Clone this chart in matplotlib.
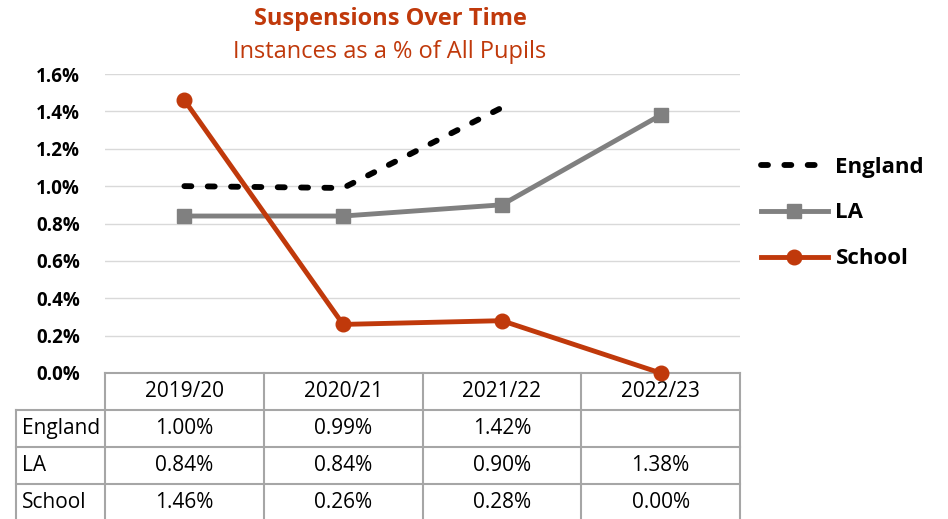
import numpy as np
import matplotlib.pyplot as plt
from matplotlib.lines import Line2D

plt.rcParams['font.family'] = ['Open Sans', 'DejaVu Sans']

years = ["2019/20", "2020/21", "2021/22", "2022/23"]
england = [1.00, 0.99, 1.42, np.nan]
la = [0.84, 0.84, 0.90, 1.38]
school = [1.46, 0.26, 0.28, 0.00]
series_names = ["England", "LA", "School"]

RED = "#C0390B"
GREY = "#808080"
TABLE_LINE = "#a6a6a6"

W, H = 948, 519
fig = plt.figure(figsize=(W / 100, H / 100), dpi=100)

# plot area in pixels: x 105..740, y 74..373
ax = fig.add_axes([105 / W, (H - 373) / H, 635 / W, 299 / H])
x = np.arange(len(years))

ax.plot(x, england, color="black", lw=4.2, dashes=(1.2, 2.8),
        dash_capstyle="round", label="England", zorder=3, clip_on=False)
ax.plot(x, la, color=GREY, lw=3.5, marker="s", ms=10.5, label="LA",
        zorder=3, clip_on=False)
ax.plot(x, school, color=RED, lw=3.5, marker="o", ms=10.5, label="School",
        zorder=4, clip_on=False)

ax.set_xlim(-0.5, len(years) - 0.5)
ax.set_ylim(0, 1.6)
ax.set_yticks(np.arange(0, 1.61, 0.2))
ax.set_yticklabels([f"{v:.1f}%" for v in np.arange(0, 1.61, 0.2)],
                   fontsize=13.5, fontweight="bold")
ax.tick_params(axis="y", length=0, pad=18)
ax.set_xticks([])
ax.grid(axis="y", color="#d9d9d9", lw=1)
ax.set_axisbelow(True)
for s in ax.spines.values():
    s.set_visible(False)

# data table below the plot, columns aligned with the categories
tr = ax.get_xaxis_transform()
row_h = 37 / 299
lab_left = -0.5 - 89 / 158.75
n = len(years)
line_kw = dict(color=TABLE_LINE, lw=1.5, transform=tr, clip_on=False, zorder=2)

ax.add_line(Line2D([-0.5, n - 0.5], [0, 0], **line_kw))
for i in range(1, 4):
    ax.add_line(Line2D([lab_left, n - 0.5], [-row_h * i] * 2, **line_kw))
ax.add_line(Line2D([lab_left, lab_left], [-row_h, -5 * row_h], **line_kw))
for k in range(n + 1):
    ax.add_line(Line2D([k - 0.5, k - 0.5], [0, -5 * row_h], **line_kw))

for k, yr in enumerate(years):
    ax.text(k, -row_h / 2, yr, transform=tr, ha="center", va="center",
            fontsize=15, clip_on=False)

for r, (name, vals) in enumerate(zip(series_names, [england, la, school])):
    yc = -row_h * (r + 1.5)
    ax.text(lab_left + 6 / 158.75, yc, name, transform=tr, ha="left",
            va="center", fontsize=15, clip_on=False)
    for k, v in enumerate(vals):
        if not np.isnan(v):
            ax.text(k, yc, f"{v:.2f}%", transform=tr, ha="center",
                    va="center", fontsize=15, clip_on=False)

fig.text(390 / W, 1 - 19 / H, "Suspensions Over Time", ha="center",
         va="center", fontsize=17, fontweight="bold", color=RED)
fig.text(390 / W, 1 - 52 / H, "Instances as a % of All Pupils", ha="center",
         va="center", fontsize=17, color=RED)

ax.legend(loc="center left", bbox_to_anchor=(741 / W, 1 - 213 / H),
          bbox_transform=fig.transFigure, frameon=False,
          prop=dict(size=16, weight="bold"), handlelength=3.0,
          handletextpad=0.35, labelspacing=1.12)

fig.savefig("out.png", dpi=100)
